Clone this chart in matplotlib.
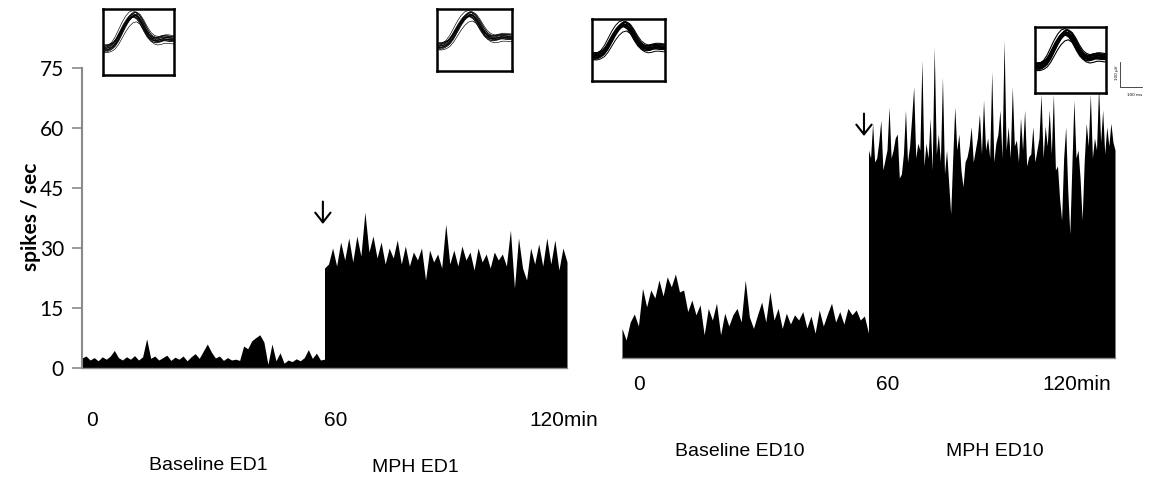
import numpy as np
import matplotlib
matplotlib.use("Agg")
import matplotlib.pyplot as plt

# ---------------- data (spikes / sec) ----------------
minutes_base = list(range(0, 61))
minutes_mph = list(range(60, 121))
minutes_mph_fine = np.arange(60, 120.5, 0.5)

ed1_baseline = [2.5, 3.0, 2.0, 2.6, 1.8, 2.8, 2.2, 3.0, 4.4, 2.6,
                2.0, 2.8, 2.2, 3.1, 2.0, 2.8, 7.3, 2.4, 3.0, 2.0,
                2.6, 3.2, 1.9, 2.7, 2.2, 3.0, 1.8, 2.8, 3.6, 2.4,
                4.2, 6.0, 4.0, 2.5, 3.0, 1.9, 2.6, 2.0, 2.2, 1.9,
                5.5, 4.8, 6.8, 7.6, 8.3, 6.5, 0.9, 6.0, 1.8, 3.8,
                1.2, 2.0, 1.6, 2.3, 1.8, 2.6, 4.6, 2.4, 3.7, 2.0, 2.2]
ed1_mph = [25.0, 26.0, 30.0, 25.5, 31.5, 27.0, 32.5, 26.5, 33.0, 28.0,
           39.0, 29.0, 33.0, 27.5, 31.5, 26.0, 30.0, 27.5, 32.0, 26.0,
           30.5, 25.5, 29.0, 27.0, 30.0, 22.0, 29.5, 26.5, 28.5, 25.0,
           36.0, 26.0, 29.5, 25.5, 30.5, 27.0, 29.0, 24.5, 30.0, 26.5,
           28.5, 25.0, 29.0, 27.0, 28.5, 25.5, 34.5, 20.0, 32.5, 25.0,
           22.0, 30.0, 26.0, 31.0, 25.5, 32.5, 26.0, 32.0, 24.5, 30.0, 26.5]
ed10_baseline = [7.4, 4.5, 9.0, 11.0, 8.0, 17.4, 12.8, 17.0, 15.0, 19.5,
                 15.5, 20.3, 17.8, 21.0, 16.5, 17.0, 11.6, 14.5, 10.8, 13.3,
                 5.8, 12.4, 9.5, 13.7, 5.8, 11.2, 8.0, 10.8, 12.4, 9.0,
                 19.5, 10.3, 7.4, 10.8, 14.0, 9.0, 16.6, 9.5, 12.4, 7.4,
                 11.2, 8.5, 10.8, 9.5, 11.6, 7.5, 10.5, 6.2, 12.0, 8.0,
                 11.0, 13.7, 9.0, 11.6, 8.5, 12.4, 10.8, 12.0, 9.5, 10.5, 6.2]
ed10_mph = [52.0, 50.0, 58.7, 49.0, 50.0, 54.0, 59.5, 47.0, 49.5, 52.0,
            62.8, 50.0, 52.0, 55.0, 56.0, 45.0, 46.0, 51.0, 62.0, 49.0,
            53.0, 60.0, 67.8, 50.0, 53.7, 52.0, 74.5, 48.0, 53.7, 50.0,
            60.0, 47.0, 77.8, 51.0, 56.0, 49.0, 70.3, 46.0, 52.0, 44.0,
            36.0, 50.0, 62.8, 52.0, 56.0, 47.0, 42.8, 49.0, 50.3, 53.0,
            57.8, 49.0, 52.0, 55.0, 61.0, 51.0, 64.5, 52.0, 55.0, 50.0,
            71.6, 49.0, 53.7, 56.0, 62.0, 50.0, 79.5, 52.0, 57.8, 50.0,
            67.8, 53.0, 54.5, 49.0, 60.0, 52.0, 62.0, 48.0, 50.3, 51.0,
            57.8, 49.0, 52.0, 55.0, 66.0, 50.0, 58.0, 53.0, 62.0, 51.0,
            66.0, 47.0, 48.0, 40.0, 34.5, 50.0, 57.8, 42.0, 31.0, 48.0,
            64.5, 50.0, 52.0, 45.0, 34.5, 49.0, 58.7, 53.0, 66.0, 50.0,
            55.0, 52.0, 67.8, 54.0, 62.0, 51.0, 57.8, 53.0, 58.7, 54.0, 52.0]

y_ticks = [0, 15, 30, 45, 60, 75]
time_labels = ["0", "60", "120min"]
phase_labels_ed1 = ["Baseline ED1", "MPH ED1"]
phase_labels_ed10 = ["Baseline ED10", "MPH ED10"]

# spike waveform inset data (fraction of box height)
wave_x = [0.0, 0.05, 0.1, 0.15, 0.2, 0.25, 0.3, 0.35, 0.4, 0.45, 0.5,
          0.55, 0.6, 0.65, 0.7, 0.75, 0.8, 0.85, 0.9, 0.95, 1.0]
wave_template = [0.40, 0.40, 0.42, 0.46, 0.54, 0.65, 0.76, 0.85, 0.91, 0.93, 0.89,
                 0.80, 0.69, 0.60, 0.55, 0.53, 0.54, 0.56, 0.56, 0.55, 0.55]
wave_gain = [0.88, 1.00, 0.95, 1.06, 0.92, 0.97, 1.03, 0.86,
             1.00, 0.94, 0.98, 1.04, 0.90, 1.01, 0.96, 0.93]
wave_offset = [-0.06, -0.04, -0.02, -0.01, 0.00, 0.01, 0.03, 0.05,
               -0.03, 0.02, 0.04, -0.05, 0.00, -0.02, 0.02, 0.06]
wave_shift = [0.02, -0.02, 0.00, 0.01, -0.01, 0.03, -0.03, 0.00,
              0.02, -0.01, 0.01, 0.00, -0.02, 0.015, -0.015, 0.025]

# ---------------- figure ----------------
W, H = 1151, 484
fig = plt.figure(figsize=(W / 100, H / 100), dpi=100)
GRAY = "#8a8a8a"


def px_axes(x0, y0, x1, y1):
    return fig.add_axes([x0 / W, 1 - y1 / H, (x1 - x0) / W, (y1 - y0) / H])


def fig_text(x, y, s, **kw):
    fig.text(x / W, 1 - y / H, s, **kw)


ARROW = dict(arrowstyle="->,head_length=0.7,head_width=0.55", lw=1.5, color="black")

# left panel (ED1)
axL = px_axes(82, 68, 567, 368)
axL.fill_between(minutes_base, 0, ed1_baseline, color="black", lw=0)
axL.fill_between(minutes_mph, 0, ed1_mph, color="black", lw=0)
axL.set_xlim(0, 120)
axL.set_ylim(0, 75)
axL.set_yticks(y_ticks)
axL.set_yticklabels([str(v) for v in y_ticks], fontfamily="Lato", fontsize=15)
axL.set_xticks([])
for s in ["top", "right"]:
    axL.spines[s].set_visible(False)
axL.spines["left"].set_color(GRAY)
axL.spines["left"].set_linewidth(1.5)
axL.spines["bottom"].set_color(GRAY)
axL.spines["bottom"].set_linewidth(1.0)
axL.tick_params(axis="y", color=GRAY, length=7, width=1.2, pad=6)
axL.annotate("", xy=(59.6, 35.3), xytext=(59.6, 42.3), arrowprops=ARROW)

# right panel (ED10)
axR = px_axes(622, 38, 1115, 358)
axR.fill_between(minutes_base, 0, ed10_baseline, color="black", lw=0)
axR.fill_between(minutes_mph_fine, 0, ed10_mph, color="black", lw=0)
axR.set_xlim(0, 120)
axR.set_ylim(0, 80)
axR.set_xticks([])
axR.set_yticks([])
for s in ["top", "right", "left"]:
    axR.spines[s].set_visible(False)
axR.spines["bottom"].set_color(GRAY)
axR.spines["bottom"].set_linewidth(1.0)
axR.annotate("", xy=(58.9, 54.8), xytext=(58.9, 61.8), arrowprops=ARROW)

# text labels
fig_text(31, 217, "spikes / sec", rotation=90, ha="center", va="center",
         fontfamily="Lato", fontweight="bold", fontsize=15)
num_kw = dict(ha="center", va="center", fontfamily="Liberation Sans", fontsize=15)
lab_kw = dict(ha="center", va="center", fontfamily="Liberation Sans", fontsize=14)
for s, x in zip(time_labels, [92, 336, 564]):
    fig_text(x, 421, s, **num_kw)
for s, x in zip(time_labels, [639, 888, 1077]):
    fig_text(x, 384, s, **num_kw)
fig_text(208, 465, phase_labels_ed1[0], **lab_kw)
fig_text(415, 467, phase_labels_ed1[1], **lab_kw)
fig_text(740, 452, phase_labels_ed10[0], **lab_kw)
fig_text(995, 452, phase_labels_ed10[1], **lab_kw)


# waveform insets
def inset(x0, y0, x1, y1, lw):
    ax = px_axes(x0, y0, x1, y1)
    ax.set_facecolor("white")
    wx = np.array(wave_x)
    wt = np.array(wave_template)
    for g, o, sh in zip(wave_gain, wave_offset, wave_shift):
        ax.plot(wx + sh, 0.40 + (wt - 0.40) * g + o, color="black", lw=lw)
    ax.set_xlim(0, 1)
    ax.set_ylim(0, 1)
    ax.set_xticks([])
    ax.set_yticks([])
    for s in ax.spines.values():
        s.set_linewidth(1.8)
        s.set_color("black")


inset(103, 9, 174, 75, 0.45)
inset(437, 9, 512, 71, 0.45)
inset(592, 19, 665, 81, 0.7)
inset(1035, 27, 1106, 93, 0.8)

# scale bar
axS = px_axes(1112, 55, 1150, 100)
axS.set_xlim(0, 1)
axS.set_ylim(0, 1)
axS.axis("off")
axS.plot([0.22, 0.22, 0.8], [0.85, 0.3, 0.3], color="black", lw=0.5)
axS.text(0.12, 0.6, "100 µV", rotation=90, fontsize=3, ha="center", va="center")
axS.text(0.6, 0.12, "100 ms", fontsize=3, ha="center", va="center")

fig.savefig("out.png", dpi=100)
